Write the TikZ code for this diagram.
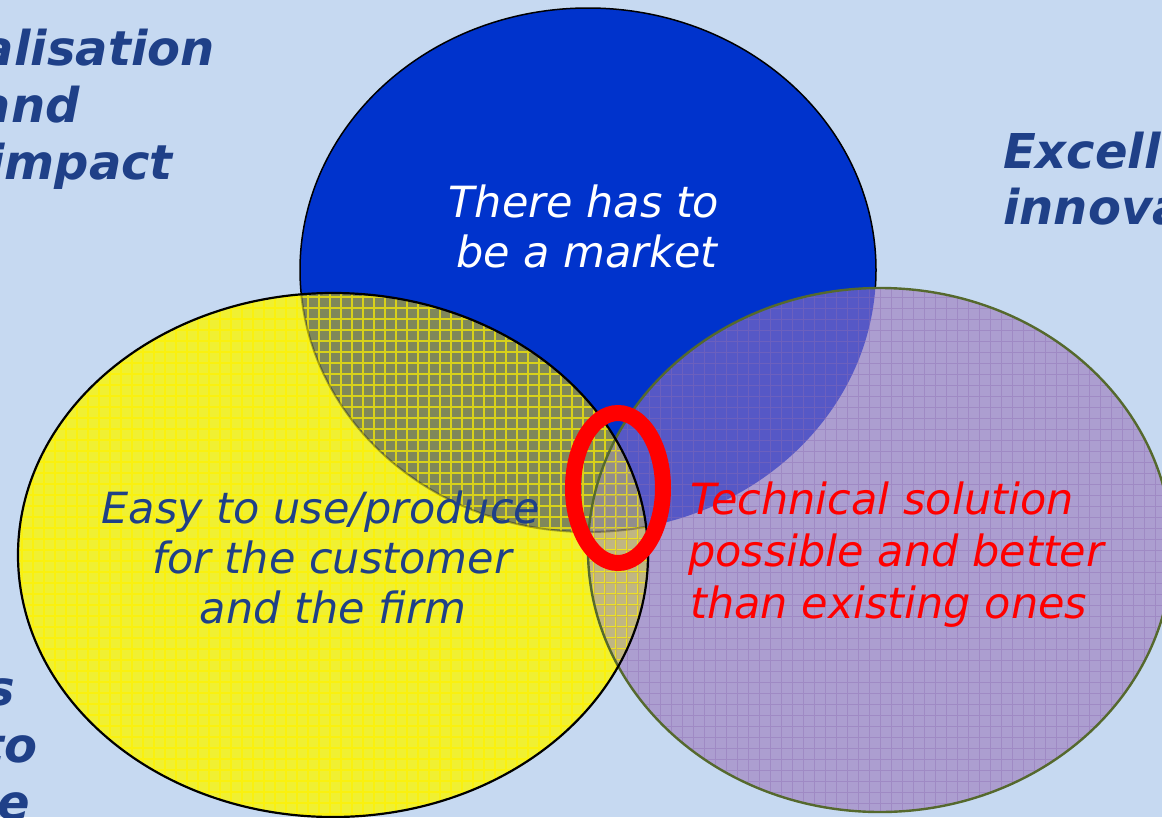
\documentclass[tikz,border=0pt]{standalone}
\usepackage{fontspec}
\setmainfont{DejaVu Sans}
\definecolor{bgc}{RGB}{198,217,241}
\definecolor{cB}{RGB}{0,51,204}
\definecolor{cY}{RGB}{240,240,50}
\definecolor{cP}{RGB}{172,158,208}
\definecolor{cBY}{RGB}{128,136,90}
\definecolor{cBP}{RGB}{86,88,198}
\definecolor{cYP}{RGB}{192,182,130}
\definecolor{cBYP}{RGB}{146,142,140}
\definecolor{gridP}{RGB}{140,110,180}
\definecolor{olive}{RGB}{85,105,45}
\definecolor{dblue}{RGB}{31,64,136}
\begin{document}
\begin{tikzpicture}[x=1pt,y=-1pt,
  maintext/.style={font=\fontsize{43}{50}\selectfont\itshape, inner sep=0pt, anchor=base},
  cornertext/.style={font=\fontsize{48}{56}\selectfont\bfseries\itshape, text=dblue, inner sep=0pt}]
\useasboundingbox (0,0) rectangle (1162,817);
\clip (0,0) rectangle (1162,817);
\fill[bgc] (0,0) rectangle (1162,817);
\def\Bpath{(588,270) ellipse [x radius=288, y radius=262]}
\def\Ypath{(333,555) ellipse [x radius=315, y radius=262]}
\def\Ppath{(880,550) ellipse [x radius=292, y radius=262]}
% base fills
\fill[cB] \Bpath;
\draw[black, line width=1.5pt] \Bpath;
\fill[cY] \Ypath;
\fill[cP] \Ppath;
% overlaps
\begin{scope}
  \clip \Bpath;
  \fill[cBY] \Ypath;
  \fill[cBP] \Ppath;
\end{scope}
\begin{scope}
  \clip \Ypath;
  \fill[cYP] \Ppath;
  \clip \Bpath;
  \fill[cBYP] \Ppath;
\end{scope}
% textures
\begin{scope}
  \clip \Ypath;
  \draw[yellow, line width=1.5pt, opacity=0.7, xstep=11pt, ystep=11pt] (0,0) grid (1162,817);
  \draw[black, line width=2pt, opacity=0.3] \Bpath;
\end{scope}
\begin{scope}
  \clip \Ppath;
  \draw[gridP, line width=1pt, opacity=0.4, xstep=11pt, ystep=11pt] (0,0) grid (1162,817);
\end{scope}
% outlines
\draw[olive, line width=2.4pt] \Ppath;
\draw[black, line width=2.2pt] \Ypath;
% red ellipse
\draw[red, line width=16pt] (618,488) ellipse [x radius=45, y radius=75];
% texts
\node[maintext, text=white] (m1) at (584,217) {There has to};
\node[maintext, text=white] (m2) at (587,267) {be a market};
\node[maintext, text=dblue] (e1) at (321,523) {Easy to use/produce};
\node[maintext, text=dblue] (e2) at (332,573) {for the customer};
\node[maintext, text=dblue] (e3) at (333,623) {and the firm};
\node[maintext, text=red, anchor=base west] (t1) at (690,514) {Technical solution};
\node[maintext, text=red, anchor=base west] (t2) at (688,566) {possible and better};
\node[maintext, text=red, anchor=base west] (t3) at (690,618) {than existing ones};
% corner texts
\node[cornertext, anchor=base east] (c1) at (215,65) {alisation};
\node[cornertext, anchor=base east] (c2) at (80,122) {and};
\node[cornertext, anchor=base east] (c3) at (173,179) {impact};
\node[cornertext, anchor=base west] (r1) at (1003,168) {Excell};
\node[cornertext, anchor=base west] (r2) at (1003,224) {innova};
\node[cornertext, anchor=base east] (b1) at (15,705) {s};
\node[cornertext, anchor=base east] (b2) at (38,762) {to};
\node[cornertext, anchor=base east] (b3) at (30,819) {e};
\end{tikzpicture}
\end{document}
